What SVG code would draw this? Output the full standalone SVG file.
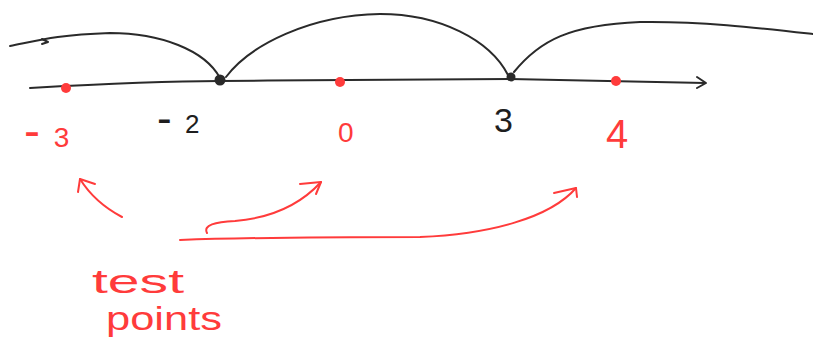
<svg xmlns="http://www.w3.org/2000/svg" width="813" height="338" viewBox="0 0 813 338">
<style>
.ink{fill:none;stroke:#2a2a2a;stroke-width:2;stroke-linecap:round;stroke-linejoin:round}
.red{fill:none;stroke:#ff3b3b;stroke-width:2;stroke-linecap:round;stroke-linejoin:round}
.rdot{fill:#ff3b3b}
.bdot{fill:#2a2a2a}
.bt{font-family:"Liberation Sans",Arial,sans-serif;fill:#1e1e1e}
.rt{font-family:"Liberation Sans",Arial,sans-serif;fill:#ff3b3b}
</style>
<rect width="813" height="338" fill="#ffffff"/>
<g id="number-line">
<path class="ink" d="M30,88 C100,84 170,81 220,81 C330,80 450,79 510,79 C580,80 650,82 705,83"/>
<path class="ink" d="M697,77 L706,83 L697,88"/>
</g>
<g id="connectors">
<path class="ink" d="M10,46 C40,40 55,35 110,33 C160,33 205,50 220,78"/>
<path class="ink" d="M42,39 L48,42 L42,44"/>
<path class="ink" d="M226,77 C250,45 310,15 380,14 C440,14 490,40 508,75"/>
<path class="ink" d="M514,72 C540,40 570,25 640,22 C700,21 760,28 813,34"/>
</g>
<g id="critical-points">
<circle class="bdot" cx="220" cy="80" r="5.5"/>
<circle class="bdot" cx="511" cy="77" r="4.5"/>
</g>
<g id="test-dots">
<circle class="rdot" cx="66" cy="88" r="5"/>
<circle class="rdot" cx="340" cy="82" r="5"/>
<circle class="rdot" cx="616" cy="81" r="5"/>
</g>
<g id="labels">
<text class="rt" x="24" y="147" font-size="28"><tspan font-size="48">-</tspan> <tspan dx="6">3</tspan></text>
<text class="bt" x="157" y="133" font-size="26"><tspan font-size="44">-</tspan> <tspan dx="6">2</tspan></text>
<text class="rt" x="338" y="142" font-size="28">0</text>
<text class="bt" x="494" y="132" font-size="34">3</text>
<text class="rt" x="606" y="148" font-size="40">4</text>
</g>
<g id="test-arrows">
<path class="red" d="M122,217 C105,208 90,195 80,179"/>
<path class="red" d="M78,192 L80,179 L95,184"/>
<path class="red" d="M207,233 C203,225 215,222 235,221 C270,218 300,205 321,182"/>
<path class="red" d="M300,184 L321,182 L316,194"/>
<path class="red" d="M180,240 C260,237 340,237 420,237 C490,234 550,218 576,188"/>
<path class="red" d="M554,193 L576,188 L577,197"/>
</g>
<g id="test-points-label">
<text class="rt" x="92" y="293" font-size="34" textLength="92" lengthAdjust="spacingAndGlyphs">test</text>
<text class="rt" x="106" y="330" font-size="34" textLength="116" lengthAdjust="spacingAndGlyphs">points</text>
</g>
</svg>
